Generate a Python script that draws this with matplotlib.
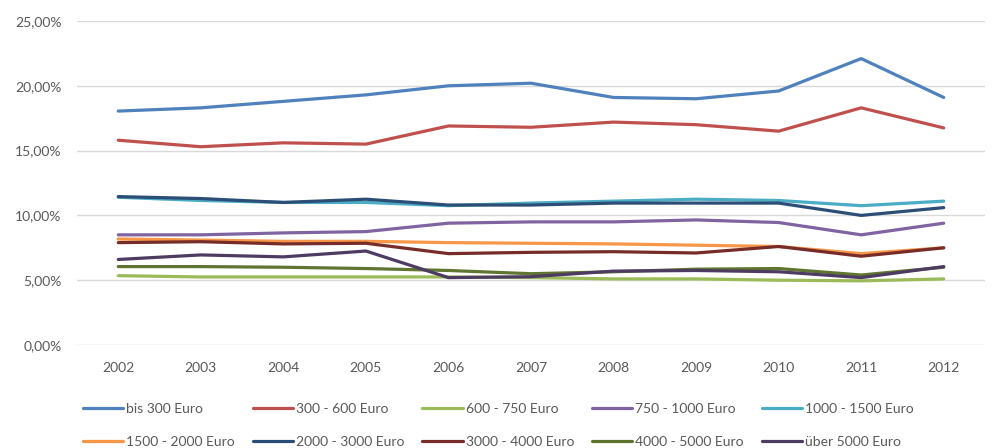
import matplotlib
matplotlib.use("Agg")
import matplotlib.pyplot as plt
from matplotlib.ticker import FuncFormatter

plt.rcParams['font.family'] = ['Lato', 'DejaVu Sans']

years = ["2002", "2003", "2004", "2005", "2006", "2007", "2008", "2009", "2010", "2011", "2012"]

bis_300 = [18.05, 18.3, 18.8, 19.3, 20.0, 20.2, 19.1, 19.0, 19.6, 22.1, 19.1]
s300_600 = [15.8, 15.3, 15.6, 15.5, 16.9, 16.8, 17.2, 17.0, 16.5, 18.3, 16.75]
s600_750 = [5.35, 5.25, 5.25, 5.25, 5.25, 5.2, 5.1, 5.1, 5.0, 4.95, 5.1]
s750_1000 = [8.5, 8.5, 8.65, 8.75, 9.4, 9.5, 9.5, 9.65, 9.45, 8.5, 9.4]
s1000_1500 = [11.4, 11.15, 11.0, 11.0, 10.75, 10.95, 11.1, 11.25, 11.15, 10.75, 11.1]
s1500_2000 = [8.18, 8.1, 8.0, 8.0, 7.9, 7.85, 7.8, 7.7, 7.6, 7.05, 7.5]
s2000_3000 = [11.45, 11.3, 11.0, 11.25, 10.8, 10.8, 10.95, 10.95, 10.95, 10.0, 10.6]
s3000_4000 = [7.9, 7.97, 7.8, 7.85, 7.05, 7.15, 7.2, 7.1, 7.6, 6.85, 7.5]
s4000_5000 = [6.05, 6.05, 6.0, 5.9, 5.75, 5.5, 5.65, 5.85, 5.9, 5.4, 6.0]
ueber_5000 = [6.6, 6.95, 6.8, 7.25, 5.2, 5.27, 5.7, 5.75, 5.65, 5.2, 6.05]

series = [
    ("bis 300 Euro", bis_300, "#4F81BD"),
    ("300 - 600 Euro", s300_600, "#C0504D"),
    ("600 - 750 Euro", s600_750, "#9BBB59"),
    ("750 - 1000 Euro", s750_1000, "#8064A2"),
    ("1000 - 1500 Euro", s1000_1500, "#4BACC6"),
    ("1500 - 2000 Euro", s1500_2000, "#F79646"),
    ("2000 - 3000 Euro", s2000_3000, "#2C4D75"),
    ("3000 - 4000 Euro", s3000_4000, "#772C2A"),
    ("4000 - 5000 Euro", s4000_5000, "#5F7530"),
    ("über 5000 Euro", ueber_5000, "#4D3B62"),
]

fig = plt.figure(figsize=(9.95, 4.48), dpi=100)
ax = fig.add_axes([77/995, 1-345/448, (985-77)/995, (345-21)/448])

x = list(range(len(years)))
for label, vals, color in series:
    ax.plot(x, vals, color=color, lw=2.3, label=label, solid_capstyle='round', solid_joinstyle='round')

ax.set_xlim(-0.5, len(years)-0.5)
ax.set_ylim(0, 25)
ax.set_yticks([0, 5, 10, 15, 20, 25])
ax.yaxis.set_major_formatter(FuncFormatter(lambda v, p: f"{v:.2f}".replace(".", ",") + "%"))
ax.set_xticks(x)
ax.set_xticklabels(years)
ax.grid(axis='y', color='#D9D9D9', lw=1)
ax.set_axisbelow(True)
for s in ax.spines.values():
    s.set_visible(False)
ax.tick_params(axis='both', length=0, labelsize=10, colors='#595959')
ax.tick_params(axis='y', pad=11)
ax.tick_params(axis='x', pad=12)

handles, labels = ax.get_legend_handles_labels()
order = [0, 5, 1, 6, 2, 7, 3, 8, 4, 9]
handles = [handles[i] for i in order]
labels = [labels[i] for i in order]
leg = fig.legend(handles, labels, ncol=5, loc='upper left',
                 bbox_to_anchor=(83/995, 1-403/448), frameon=False,
                 fontsize=10, handlelength=2.9, handletextpad=0.2,
                 columnspacing=1.3, labelspacing=1.5, borderaxespad=0, borderpad=0)
for t in leg.get_texts():
    t.set_color('#595959')

fig.savefig("out.png", dpi=100)
